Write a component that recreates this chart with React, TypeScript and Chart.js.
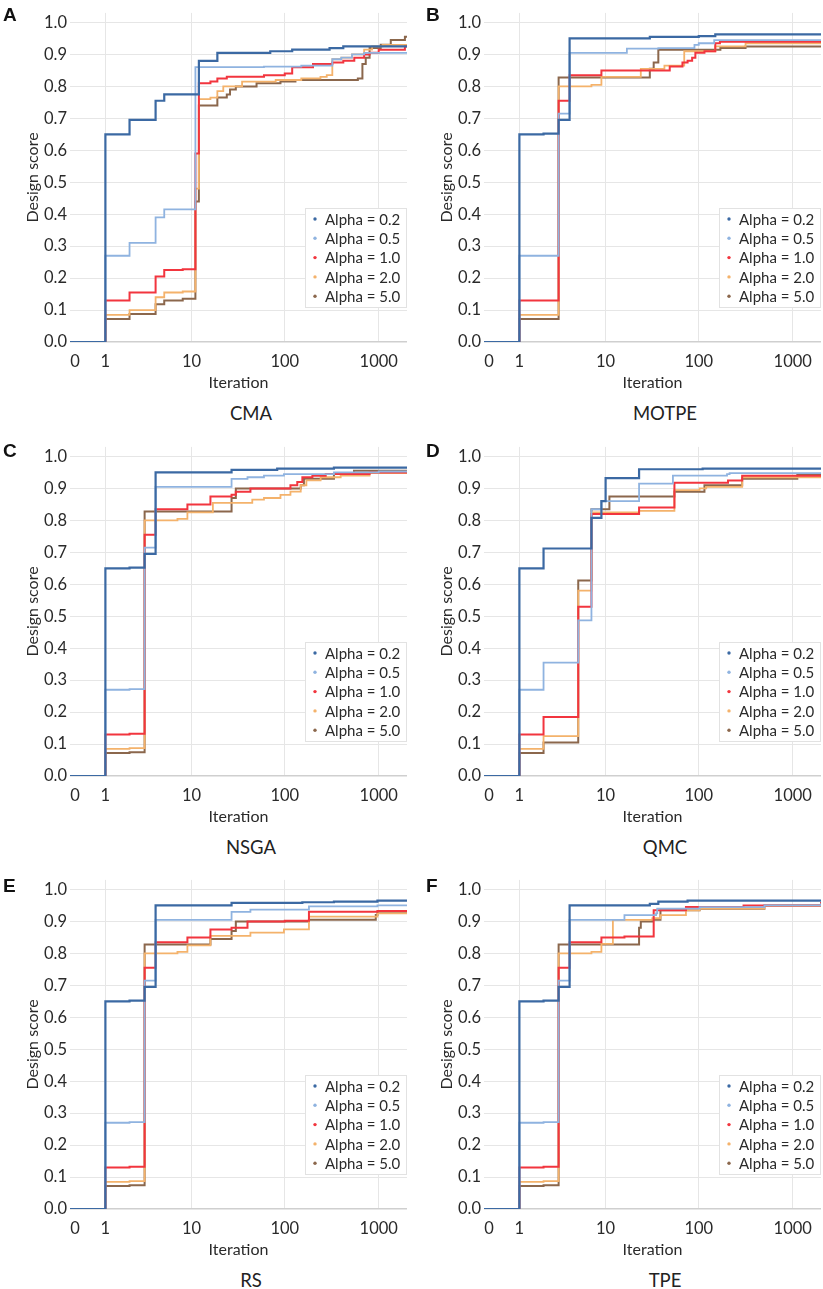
import React, { useEffect, useRef } from 'react';
import { Chart, registerables } from 'chart.js';

Chart.register(...registerables);
Chart.defaults.font.family = 'Lato, sans-serif';

type Pt = [number, number]; // [iteration, design score]

// ---- series styling / labels ----
const ALPHA_LABELS = ['Alpha = 0.2', 'Alpha = 0.5', 'Alpha = 1.0', 'Alpha = 2.0', 'Alpha = 5.0'];
const ALPHA_COLORS = ['#3b69a3', '#8fb3e0', '#f2353e', '#f4b26b', '#8b674c'];
const LINE_WIDTHS = [2.2, 1.8, 2, 1.8, 2];

const X_TICK_ITERS = [1, 10, 100, 1000];
const X_TICK_LABELS = ['0', '1', '10', '100', '1000'];
const Y_TICKS = [0, 0.1, 0.2, 0.3, 0.4, 0.5, 0.6, 0.7, 0.8, 0.9, 1.0];
const LAST_ITER = 2000;

const TEXT = '#2a2a2a';
const GRID = '#e6e6e6';

// log-like iteration axis
const LOG_SHIFT = 0.24;
const xPos = (it: number) => Math.log10(it + LOG_SHIFT);
const X_MIN = -0.283;
const X_MAX = xPos(LAST_ITER);
const ZERO_LABEL_POS = -0.23;

// ---- CMA ----
const CMA_02: Pt[] = [[0, 0], [1, 0.65], [2, 0.695], [4, 0.755], [5, 0.775], [12, 0.88], [19, 0.905], [70, 0.91], [120, 0.915], [300, 0.92], [420, 0.925], [2000, 0.925]];
const CMA_05: Pt[] = [[0, 0], [1, 0.27], [2, 0.31], [4, 0.39], [5, 0.415], [11, 0.86], [60, 0.862], [150, 0.865], [321, 0.885], [400, 0.89], [520, 0.9], [700, 0.905], [2000, 0.905]];
const CMA_10: Pt[] = [[0, 0], [1, 0.13], [2, 0.155], [4, 0.205], [5, 0.225], [8, 0.228], [11, 0.59], [12, 0.81], [16, 0.815], [19, 0.825], [24, 0.83], [60, 0.835], [100, 0.84], [120, 0.86], [200, 0.87], [321, 0.875], [420, 0.88], [550, 0.89], [700, 0.9], [800, 0.905], [1000, 0.915], [1900, 0.925], [2000, 0.925]];
const CMA_20: Pt[] = [[0, 0], [1, 0.085], [2, 0.1], [4, 0.14], [5, 0.155], [8, 0.158], [11, 0.48], [12, 0.76], [16, 0.765], [19, 0.785], [22, 0.8], [35, 0.815], [80, 0.82], [150, 0.825], [240, 0.83], [280, 0.835], [321, 0.885], [400, 0.89], [520, 0.9], [700, 0.915], [850, 0.925], [1100, 0.93], [2000, 0.93]];
const CMA_50: Pt[] = [[0, 0], [1, 0.072], [2, 0.088], [4, 0.118], [5, 0.13], [8, 0.135], [11, 0.44], [12, 0.74], [19, 0.765], [24, 0.775], [26, 0.79], [30, 0.8], [50, 0.81], [90, 0.815], [130, 0.82], [600, 0.825], [671, 0.87], [728, 0.89], [800, 0.92], [1050, 0.93], [1344, 0.945], [1900, 0.955], [2000, 0.955]];

// ---- MOTPE ----
const MOTPE_02: Pt[] = [[0, 0], [1, 0.65], [2, 0.652], [3, 0.695], [4, 0.95], [30, 0.955], [100, 0.957], [150, 0.963], [2000, 0.965]];
const MOTPE_05: Pt[] = [[0, 0], [1, 0.27], [2, 0.27], [3, 0.715], [4, 0.905], [17, 0.918], [37, 0.92], [90, 0.93], [100, 0.935], [146, 0.945], [2000, 0.947]];
const MOTPE_10: Pt[] = [[0, 0], [1, 0.13], [2, 0.13], [3, 0.755], [4, 0.835], [9, 0.85], [49, 0.862], [67, 0.875], [76, 0.88], [85, 0.89], [92, 0.905], [115, 0.91], [150, 0.935], [168, 0.94], [2000, 0.945]];
const MOTPE_20: Pt[] = [[0, 0], [1, 0.085], [2, 0.085], [3, 0.8], [7, 0.805], [9, 0.83], [24, 0.855], [43, 0.865], [70, 0.91], [150, 0.925], [315, 0.935], [2000, 0.94]];
const MOTPE_50: Pt[] = [[0, 0], [1, 0.072], [2, 0.072], [3, 0.828], [30, 0.855], [33, 0.875], [37, 0.915], [170, 0.92], [315, 0.925], [2000, 0.928]];

// ---- NSGA ----
const NSGA_02: Pt[] = [[0, 0], [1, 0.65], [2, 0.652], [3, 0.695], [4, 0.95], [27, 0.958], [83, 0.962], [334, 0.965], [2000, 0.967]];
const NSGA_05: Pt[] = [[0, 0], [1, 0.27], [2, 0.272], [3, 0.715], [4, 0.905], [27, 0.93], [40, 0.935], [60, 0.94], [98, 0.945], [334, 0.95], [1000, 0.953], [2000, 0.955]];
const NSGA_10: Pt[] = [[0, 0], [1, 0.13], [2, 0.132], [3, 0.755], [4, 0.835], [9, 0.85], [16, 0.875], [27, 0.88], [30, 0.89], [43, 0.9], [115, 0.91], [136, 0.92], [154, 0.935], [197, 0.94], [273, 0.945], [800, 0.95], [2000, 0.955]];
const NSGA_20: Pt[] = [[0, 0], [1, 0.085], [2, 0.087], [3, 0.8], [7, 0.805], [9, 0.825], [17, 0.855], [45, 0.865], [60, 0.87], [90, 0.88], [115, 0.89], [148, 0.91], [170, 0.925], [241, 0.935], [394, 0.94], [800, 0.948], [2000, 0.953]];
const NSGA_50: Pt[] = [[0, 0], [1, 0.072], [2, 0.074], [3, 0.828], [27, 0.87], [30, 0.9], [148, 0.91], [160, 0.93], [334, 0.945], [546, 0.955], [2000, 0.955]];

// ---- QMC ----
const QMC_02: Pt[] = [[0, 0], [1, 0.65], [2, 0.712], [7, 0.808], [9, 0.86], [10, 0.932], [23, 0.96], [110, 0.962], [2000, 0.965]];
const QMC_05: Pt[] = [[0, 0], [1, 0.27], [2, 0.355], [5, 0.487], [7, 0.835], [9, 0.86], [23, 0.915], [53, 0.94], [200, 0.945], [213, 0.948], [2000, 0.95]];
const QMC_10: Pt[] = [[0, 0], [1, 0.13], [2, 0.185], [5, 0.53], [7, 0.82], [23, 0.84], [55, 0.918], [205, 0.925], [290, 0.94], [2000, 0.942]];
const QMC_20: Pt[] = [[0, 0], [1, 0.085], [2, 0.125], [5, 0.58], [7, 0.825], [23, 0.83], [55, 0.895], [102, 0.9], [120, 0.905], [290, 0.935], [2000, 0.94]];
const QMC_50: Pt[] = [[0, 0], [1, 0.072], [2, 0.105], [5, 0.612], [7, 0.835], [11, 0.875], [55, 0.89], [115, 0.91], [290, 0.93], [1120, 0.942], [2000, 0.942]];

// ---- RS ----
const RS_02: Pt[] = [[0, 0], [1, 0.65], [2, 0.652], [3, 0.695], [4, 0.95], [27, 0.958], [154, 0.96], [334, 0.962], [970, 0.965], [2000, 0.965]];
const RS_05: Pt[] = [[0, 0], [1, 0.27], [2, 0.272], [3, 0.715], [4, 0.905], [27, 0.93], [43, 0.937], [181, 0.947], [970, 0.95], [2000, 0.95]];
const RS_10: Pt[] = [[0, 0], [1, 0.13], [2, 0.132], [3, 0.755], [4, 0.835], [9, 0.85], [16, 0.875], [27, 0.88], [40, 0.9], [100, 0.902], [181, 0.93], [970, 0.933], [2000, 0.935]];
const RS_20: Pt[] = [[0, 0], [1, 0.085], [2, 0.087], [3, 0.8], [7, 0.805], [9, 0.825], [16, 0.855], [43, 0.865], [98, 0.875], [181, 0.915], [970, 0.925], [2000, 0.928]];
const RS_50: Pt[] = [[0, 0], [1, 0.072], [2, 0.074], [3, 0.828], [16, 0.845], [27, 0.87], [30, 0.9], [181, 0.905], [931, 0.92], [970, 0.93], [2000, 0.932]];

// ---- TPE ----
const TPE_02: Pt[] = [[0, 0], [1, 0.65], [2, 0.652], [3, 0.695], [4, 0.95], [30, 0.955], [37, 0.962], [76, 0.965], [2000, 0.967]];
const TPE_05: Pt[] = [[0, 0], [1, 0.27], [2, 0.272], [3, 0.715], [4, 0.905], [16, 0.92], [35, 0.925], [36, 0.94], [102, 0.945], [500, 0.95], [2000, 0.957]];
const TPE_10: Pt[] = [[0, 0], [1, 0.13], [2, 0.132], [3, 0.755], [4, 0.835], [9, 0.85], [16, 0.853], [33, 0.935], [73, 0.945], [300, 0.95], [2000, 0.96]];
const TPE_20: Pt[] = [[0, 0], [1, 0.085], [2, 0.087], [3, 0.8], [7, 0.805], [9, 0.83], [12, 0.905], [32, 0.91], [39, 0.92], [73, 0.935], [102, 0.94], [500, 0.948], [2000, 0.955]];
const TPE_50: Pt[] = [[0, 0], [1, 0.072], [2, 0.074], [3, 0.828], [23, 0.88], [24, 0.9], [32, 0.905], [39, 0.935], [102, 0.94], [500, 0.95], [2000, 0.96]];

const PANELS = [
  { letter: 'A', title: 'CMA', series: [CMA_02, CMA_05, CMA_10, CMA_20, CMA_50], left: 0, top: 0, letterX: 3, letterY: 5, titleX: 251, titleY: 413 },
  { letter: 'B', title: 'MOTPE', series: [MOTPE_02, MOTPE_05, MOTPE_10, MOTPE_20, MOTPE_50], left: 414, top: 0, letterX: 426, letterY: 5, titleX: 665, titleY: 413 },
  { letter: 'C', title: 'NSGA', series: [NSGA_02, NSGA_05, NSGA_10, NSGA_20, NSGA_50], left: 0, top: 434, letterX: 3, letterY: 441, titleX: 251, titleY: 847 },
  { letter: 'D', title: 'QMC', series: [QMC_02, QMC_05, QMC_10, QMC_20, QMC_50], left: 414, top: 434, letterX: 426, letterY: 441, titleX: 665, titleY: 847 },
  { letter: 'E', title: 'RS', series: [RS_02, RS_05, RS_10, RS_20, RS_50], left: 0, top: 867, letterX: 3, letterY: 876, titleX: 251, titleY: 1280 },
  { letter: 'F', title: 'TPE', series: [TPE_02, TPE_05, TPE_10, TPE_20, TPE_50], left: 414, top: 867, letterX: 426, letterY: 876, titleX: 665, titleY: 1280 },
];

// legend box drawn inside the plot, bottom right
const legendBox = {
  id: 'legendBox',
  afterDatasetsDraw(chart: any) {
    const { ctx, chartArea } = chart;
    const w = 102, h = 100;
    const x0 = chartArea.right - w;
    const y0 = chartArea.bottom - 34 - h;
    ctx.save();
    ctx.fillStyle = '#fff';
    ctx.fillRect(x0, y0, w, h);
    ctx.strokeStyle = '#e2e2e2';
    ctx.lineWidth = 1;
    ctx.strokeRect(x0 + 0.5, y0 + 0.5, w - 1, h - 1);
    ctx.font = '15px Lato, sans-serif';
    ctx.textBaseline = 'middle';
    ctx.textAlign = 'left';
    chart.data.datasets.forEach((ds: any, i: number) => {
      const cy = y0 + 11 + i * 19.3;
      ctx.fillStyle = ds.borderColor;
      ctx.beginPath();
      ctx.arc(x0 + 10, cy, 1.7, 0, Math.PI * 2);
      ctx.fill();
      ctx.fillStyle = TEXT;
      ctx.fillText(ds.label, x0 + 20, cy + 1);
    });
    ctx.restore();
  },
};

const Panel = ({ series, left, top }: { series: Pt[][], left: number, top: number }) => {
  const chartRef = useRef<HTMLCanvasElement>(null);

  useEffect(() => {
    if (!chartRef.current) return;
    const chart = new Chart(chartRef.current, {
      type: 'line',
      data: {
        datasets: series.map((s, i) => ({
          label: ALPHA_LABELS[i],
          data: s.map(([it, v]) => ({ x: xPos(it), y: v })),
          borderColor: ALPHA_COLORS[i],
          backgroundColor: ALPHA_COLORS[i],
          borderWidth: LINE_WIDTHS[i],
          stepped: true,
          pointRadius: 0,
          fill: false,
          order: i,
        })),
      },
      options: {
        responsive: false,
        animation: false,
        layout: { padding: { left: 0, right: 2, top: 0, bottom: 0 } },
        plugins: { legend: { display: false }, tooltip: { enabled: false } },
        scales: {
          x: {
            type: 'linear',
            min: X_MIN,
            max: X_MAX,
            afterBuildTicks: (scale: any) => {
              scale.ticks = [ZERO_LABEL_POS, ...X_TICK_ITERS.map(xPos)].map(value => ({ value }));
            },
            afterFit: (scale: any) => { scale.height = 58; },
            ticks: {
              autoSkip: false,
              maxRotation: 0,
              padding: 10,
              color: TEXT,
              font: { size: 16.5 },
              callback: (_v: any, i: number) => X_TICK_LABELS[i],
            },
            grid: { drawTicks: false, color: (c: any) => (c.index === 0 ? 'rgba(0,0,0,0)' : GRID) },
            border: { display: false },
            title: { display: true, text: 'Iteration', color: TEXT, font: { size: 16 }, padding: { top: 0, bottom: 8 } },
          },
          y: {
            min: 0,
            max: 1.03,
            afterBuildTicks: (scale: any) => { scale.ticks = Y_TICKS.map(value => ({ value })); },
            afterFit: (scale: any) => { scale.width = 70; },
            ticks: { padding: 3, color: TEXT, font: { size: 16.5 }, callback: (v: any) => Number(v).toFixed(1) },
            grid: {
              drawTicks: false,
              color: (c: any) => (c.tick && c.tick.value === 0 ? '#cfcfcf' : GRID),
              lineWidth: (c: any) => (c.tick && c.tick.value === 0 ? 1.5 : 1),
            },
            border: { display: false },
            title: { display: true, text: 'Design score', color: TEXT, font: { size: 16 }, padding: { top: 23, bottom: 0 } },
          },
        },
      },
      plugins: [legendBox],
    });
    return () => chart.destroy();
  }, [series]);

  return (
    <canvas
      ref={chartRef}
      width={409}
      height={400}
      style={{ position: 'absolute', left, top, width: 409, height: 400 }}
    />
  );
};

export default function App() {
  return (
    <div style={{ position: 'absolute', left: 0, top: 0, width: 823, height: 1289, background: '#fff', fontFamily: 'Lato, sans-serif' }}>
      {PANELS.map(p => (
        <React.Fragment key={p.letter}>
          <Panel series={p.series} left={p.left} top={p.top} />
          <div style={{ position: 'absolute', left: p.letterX, top: p.letterY, fontFamily: '"Liberation Sans", Arial, sans-serif', fontWeight: 700, fontSize: 19, lineHeight: '19px', color: '#111' }}>
            {p.letter}
          </div>
          <div style={{ position: 'absolute', left: p.titleX, top: p.titleY - 10, transform: 'translateX(-50%)', fontSize: 18.5, lineHeight: '20px', color: '#222', whiteSpace: 'nowrap' }}>
            {p.title}
          </div>
        </React.Fragment>
      ))}
    </div>
  );
}
